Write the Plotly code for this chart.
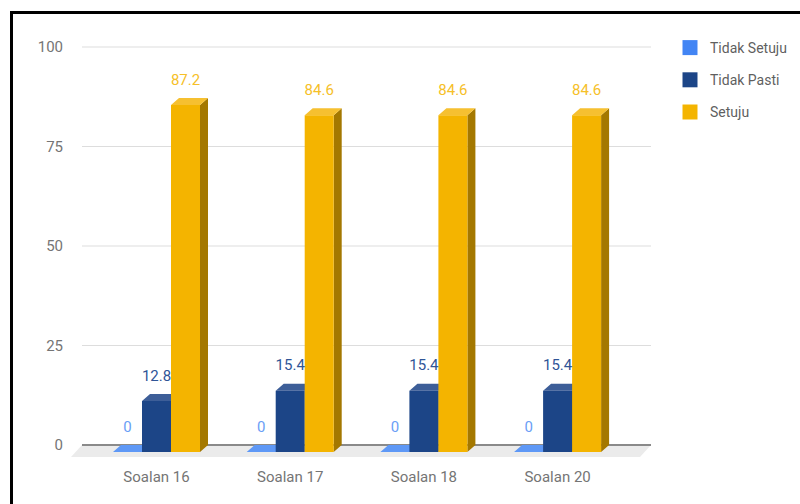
import plotly.graph_objects as go

# ---------------- data ----------------
categories = ["Soalan 16", "Soalan 17", "Soalan 18", "Soalan 20"]
series_names = ["Tidak Setuju", "Tidak Pasti", "Setuju"]
tidak_setuju = [0, 0, 0, 0]
tidak_pasti = [12.8, 15.4, 15.4, 15.4]
setuju = [87.2, 84.6, 84.6, 84.6]
y_ticks = [0, 25, 50, 75, 100]

series_values = [tidak_setuju, tidak_pasti, setuju]

# ---------------- styles ----------------
front_colors = ["#4285F4", "#1C4587", "#F4B400"]
top_colors = ["#5E98F6", "#3D5E98", "#F6C030"]
side_colors = ["#2F64BC", "#12305E", "#A47800"]
label_colors = ["#6A9EF6", "#2F5597", "#F6C028"]

# geometry (axis units)
L, R, T, B = 68, 655, 45, 460          # plot area in px
PX_PER_CAT = 133.7
X0_PX = 156.5
PX_PER_Y = 3.98
x_range = [(L - X0_PX) / PX_PER_CAT, (R - X0_PX) / PX_PER_CAT]
y_max = 100 + (47 - T) / PX_PER_Y
y_range = [y_max - (B - T) / PX_PER_Y, y_max]

w = 29 / PX_PER_CAT        # bar width
dx = 8 / PX_PER_CAT        # bar depth (x)
d = 7 / PX_PER_Y           # bar depth (y)
floor_l = (82 - X0_PX) / PX_PER_CAT
floor_r = (651 - X0_PX) / PX_PER_CAT
floor_dx = 11 / PX_PER_CAT
floor_dy = 12 / PX_PER_Y
label_gap = 17 / PX_PER_Y

fig = go.Figure()

# floor
fig.add_trace(go.Scatter(
    x=[floor_l, floor_r, floor_r - floor_dx, floor_l - floor_dx, floor_l],
    y=[0, 0, -floor_dy, -floor_dy, 0],
    fill="toself", fillcolor="#EBEBEB", mode="lines", line=dict(width=0),
    hoverinfo="skip", showlegend=False))
# baseline
fig.add_trace(go.Scatter(
    x=[floor_l, floor_r], y=[0, 0], mode="lines",
    line=dict(color="#8A8A8A", width=2), hoverinfo="skip", showlegend=False))

# 3D faces (top and side) on base axes
for j, vals in enumerate(series_values):
    tx, ty, sx, sy = [], [], [], []
    for i, v in enumerate(vals):
        xl = i - 1.5 * w + j * w
        tx += [xl, xl + w, xl + w + dx, xl + dx, xl, None]
        ty += [v - d, v - d, v, v, v - d, None]
        sx += [xl + w, xl + w + dx, xl + w + dx, xl + w, xl + w, None]
        sy += [-d, 0, v, v - d, -d, None]
    fig.add_trace(go.Scatter(x=sx, y=sy, fill="toself", fillcolor=side_colors[j],
                             mode="lines", line=dict(width=0), hoverinfo="skip",
                             showlegend=False))
    fig.add_trace(go.Scatter(x=tx, y=ty, fill="toself", fillcolor=top_colors[j],
                             mode="lines", line=dict(width=0), hoverinfo="skip",
                             showlegend=False))

# front faces as bars on overlay axes
for j, vals in enumerate(series_values):
    fig.add_trace(go.Bar(
        x=list(range(len(categories))), y=vals, base=[-d] * len(vals),
        width=w, offset=-1.5 * w + j * w, name=series_names[j],
        marker=dict(color=front_colors[j], line=dict(width=0)),
        xaxis="x2", yaxis="y2", legendgroup=series_names[j], showlegend=False))

# legend entries (square swatches)
for j, name in enumerate(series_names):
    fig.add_trace(go.Scatter(
        x=[None], y=[None], mode="markers", name=name,
        marker=dict(symbol="square", size=15, color=front_colors[j]),
        xaxis="x2", yaxis="y2", legendgroup=name, showlegend=True))

# value labels
for j, vals in enumerate(series_values):
    fig.add_trace(go.Scatter(
        x=[i - 1.5 * w + j * w + w / 2 for i in range(len(vals))],
        y=[v + label_gap for v in vals],
        text=[f"{v:g}" for v in vals], mode="text", textposition="middle center",
        textfont=dict(family="Roboto", size=15, color=label_colors[j]),
        xaxis="x2", yaxis="y2", hoverinfo="skip", showlegend=False))

# gridlines
shapes = []
for t in y_ticks[1:]:
    shapes.append(dict(type="line", xref="x", yref="y", x0=floor_l, x1=floor_r,
                       y0=t, y1=t, line=dict(color="#DDDDDD", width=1), layer="below"))


def px_x(p):
    return (p - L) / (R - L)


def px_y(p):
    return 1 - (p - T) / (B - T)


# black frame
shapes.append(dict(type="line", xref="paper", yref="paper", x0=px_x(10), x1=px_x(800),
                   y0=px_y(12.5), y1=px_y(12.5), line=dict(color="black", width=3)))
shapes.append(dict(type="line", xref="paper", yref="paper", x0=px_x(11.5), x1=px_x(11.5),
                   y0=px_y(11), y1=px_y(504), line=dict(color="black", width=3)))

fig.update_layout(
    width=800, height=504,
    margin=dict(l=L, r=800 - R, t=T, b=504 - B),
    paper_bgcolor="white", plot_bgcolor="white",
    barmode="overlay",
    font=dict(family="Roboto", size=14, color="#757575"),
    xaxis=dict(range=x_range, tickvals=list(range(len(categories))), ticktext=categories,
               showgrid=False, zeroline=False, showline=False, ticks="",
               tickfont=dict(size=15, color="#757575"), ticklabelstandoff=6),
    yaxis=dict(range=y_range, tickvals=y_ticks, showgrid=False, zeroline=False,
               showline=False, ticks="", tickfont=dict(size=15, color="#757575"),
               ticklabelstandoff=4),
    xaxis2=dict(overlaying="x", matches="x", visible=False),
    yaxis2=dict(overlaying="y", matches="y", visible=False),
    legend=dict(xref="container", yref="container", x=670 / 800, y=1 - 32 / 504,
                xanchor="left", yanchor="top", traceorder="grouped", tracegroupgap=11,
                itemsizing="trace",
                font=dict(family="Roboto", size=14, color="#5F5F5F"),
                bgcolor="rgba(0,0,0,0)"),
    shapes=shapes,
)

fig.write_html("out.html")
